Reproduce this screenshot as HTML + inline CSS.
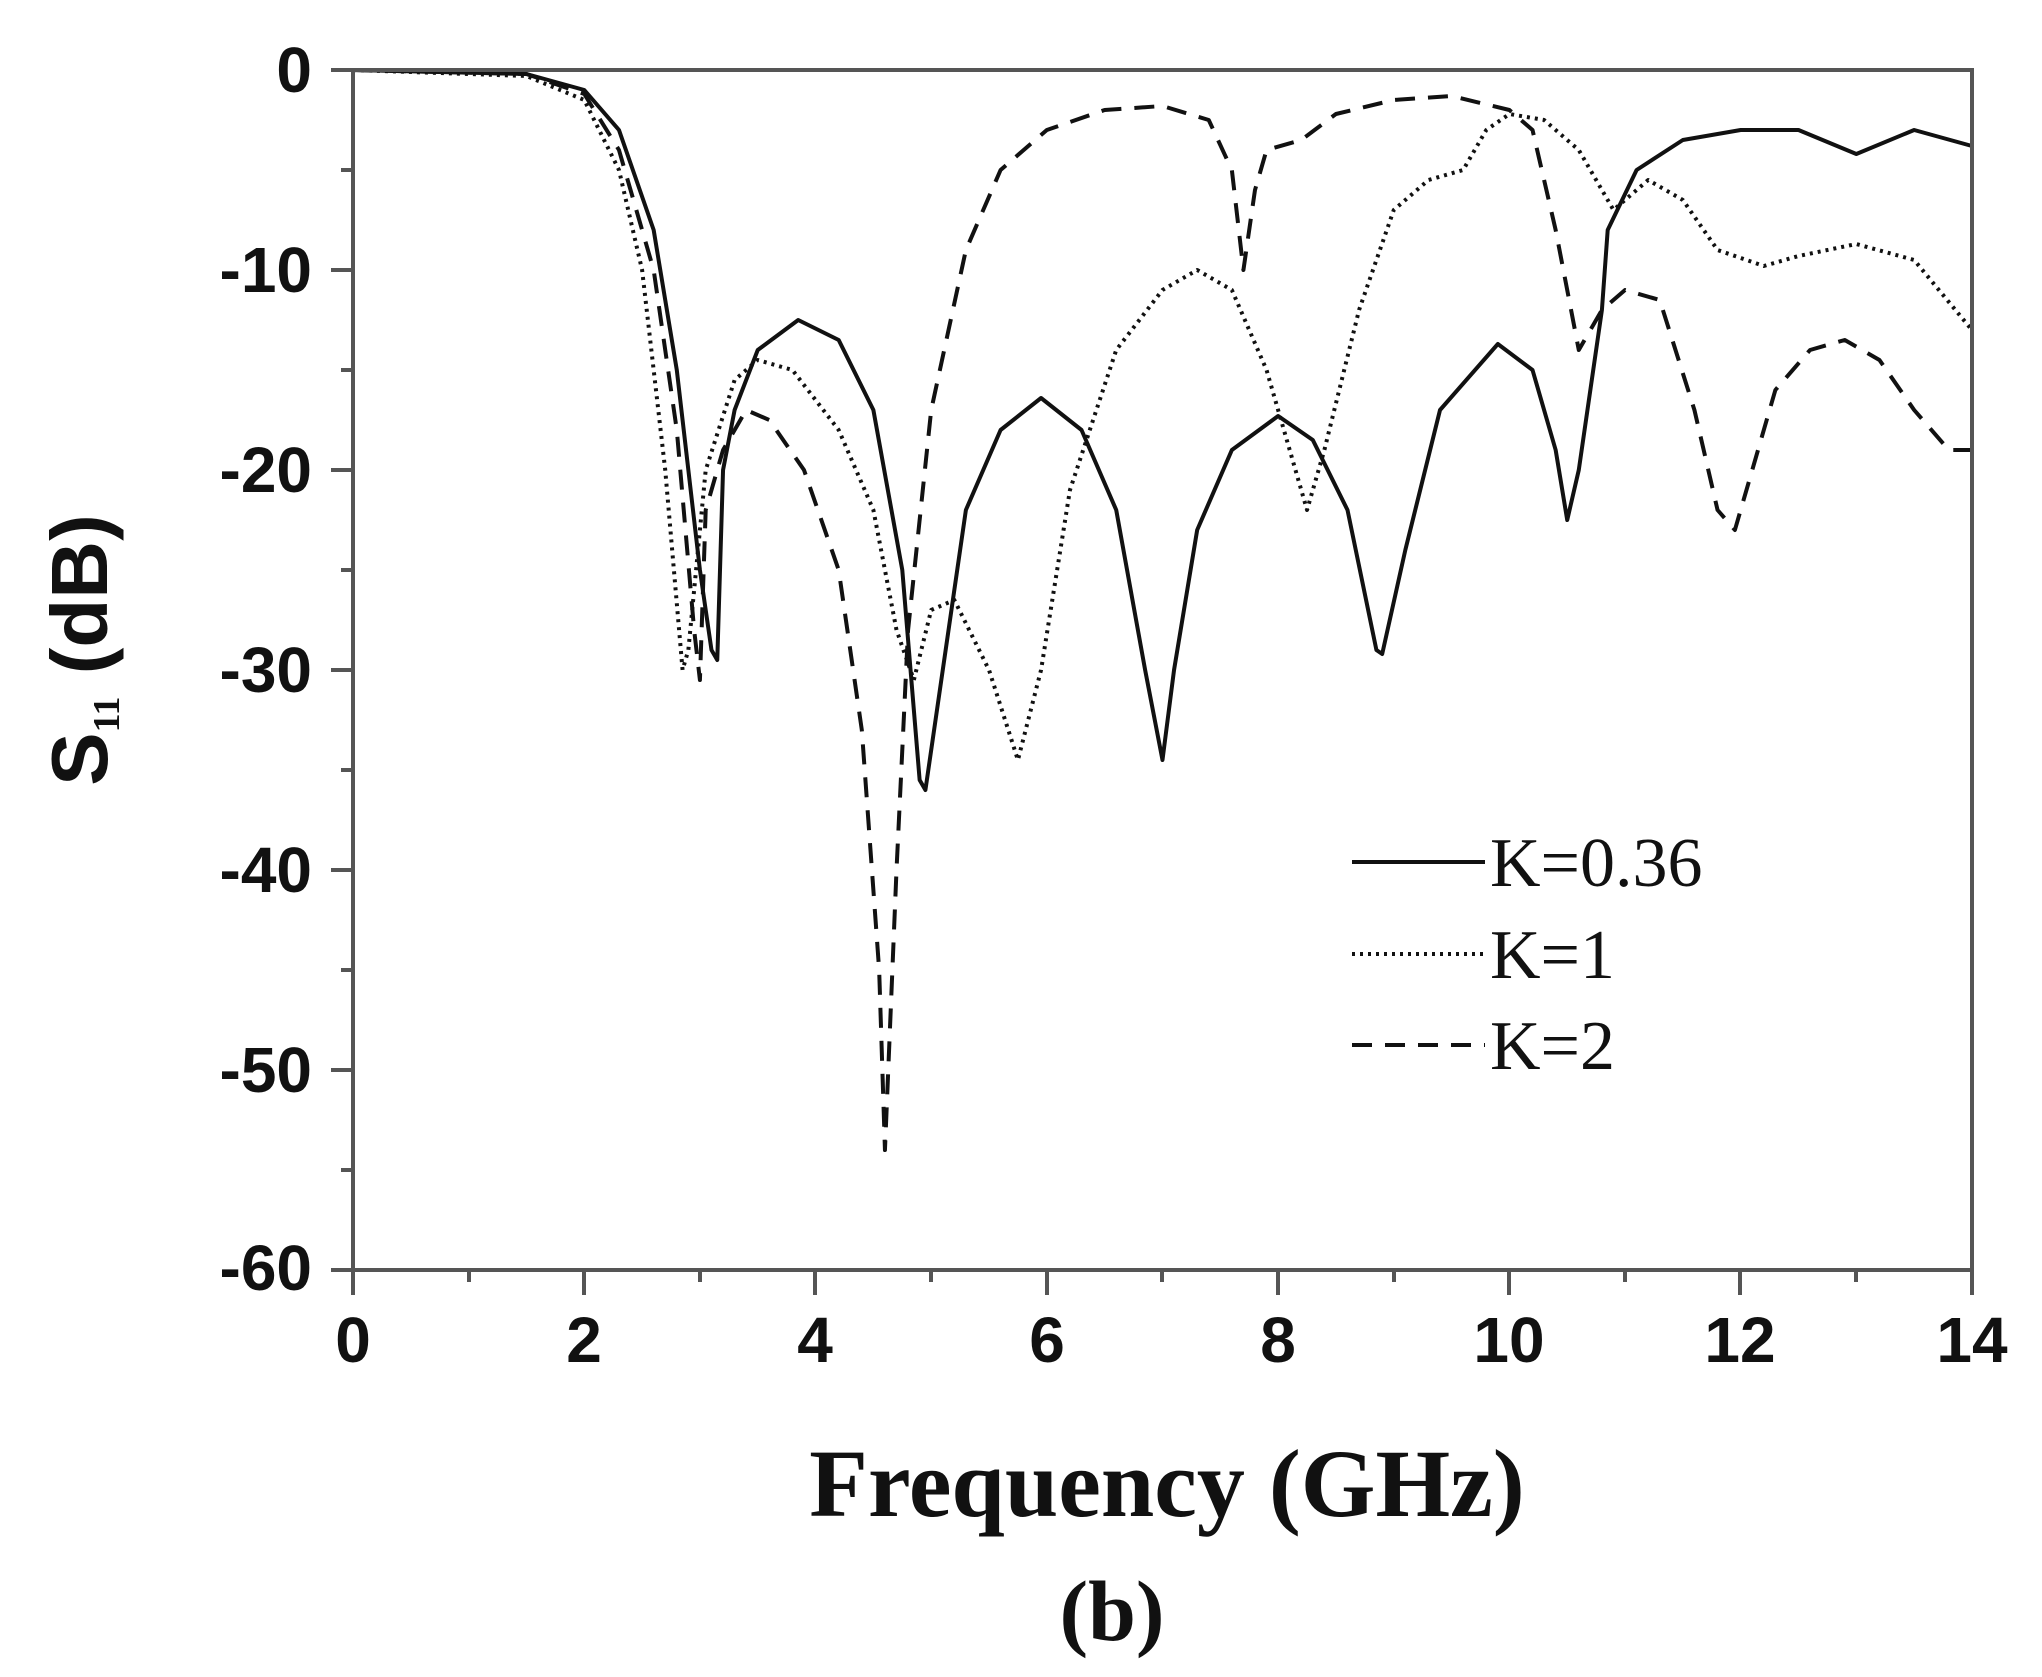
<!DOCTYPE html><html><head><style>body{margin:0;background:#fff}</style></head><body>
<svg width="2042" height="1672" xmlns="http://www.w3.org/2000/svg">
<rect width="2042" height="1672" fill="#fff"/>
<g transform="translate(353,70) scale(115.64,20)" fill="none" stroke="#111" stroke-linejoin="round">
<polyline vector-effect="non-scaling-stroke" stroke-width="4" points="0,0 1.5,0.2 2,1 2.3,3 2.6,8 2.8,15 3.0,25 3.1,29 3.15,29.5 3.2,20 3.3,17 3.5,14 3.85,12.5 4.2,13.5 4.5,17 4.75,25 4.9,35.5 4.95,36 5.1,30 5.3,22 5.6,18 5.95,16.4 6.3,18 6.6,22 6.85,30 7.0,34.5 7.1,30 7.3,23 7.6,19 8.0,17.3 8.3,18.5 8.6,22 8.85,29 8.9,29.2 9.1,24 9.4,17 9.9,13.7 10.2,15 10.4,19 10.5,22.5 10.6,20 10.8,12 10.85,8 11.1,5 11.5,3.5 12,3 12.5,3 13,4.2 13.5,3 14,3.8"/>
<polyline vector-effect="non-scaling-stroke" stroke-width="4" stroke-dasharray="3,5" points="0,0 1.5,0.3 2,1.5 2.3,5 2.5,10 2.7,20 2.85,30 2.9,29 3.05,20 3.3,15.5 3.5,14.5 3.8,15 4.2,18 4.5,22 4.7,28 4.85,30.5 5.0,27 5.2,26.5 5.5,30 5.75,34.5 5.95,30 6.2,21 6.6,14 7,11 7.3,10 7.6,11 7.9,15 8.1,19 8.25,22 8.4,19 8.7,12 9.0,7 9.3,5.5 9.6,5 9.8,3 10.0,2.2 10.3,2.5 10.6,4 10.9,7 11.2,5.5 11.5,6.5 11.8,9 12.2,9.8 12.5,9.3 13,8.7 13.5,9.5 14,13"/>
<polyline vector-effect="non-scaling-stroke" stroke-width="4" stroke-dasharray="20,13" points="0,0 1.5,0.2 2,1.2 2.3,4 2.6,10 2.8,18 2.95,28 3.0,30.5 3.05,22 3.2,19 3.4,17 3.6,17.5 3.9,20 4.2,25 4.4,33 4.55,45 4.6,54 4.7,40 4.8,28 5.0,17 5.3,9 5.6,5 6,3 6.5,2 7,1.8 7.4,2.5 7.6,5 7.7,10 7.8,6 7.9,4 8.2,3.5 8.5,2.2 9,1.5 9.5,1.3 10,2 10.2,3 10.4,8 10.6,14 10.8,12 11.0,11 11.3,11.5 11.6,17 11.8,22 11.95,23 12.1,20 12.3,16 12.6,14 12.9,13.5 13.2,14.5 13.5,17 13.8,19 14,19"/>
</g>
<g stroke="#555" stroke-width="4" fill="none">
<rect x="353" y="70" width="1619" height="1200"/>
<path d="M353,1270v25M584,1270v25M815,1270v25M1047,1270v25M1278,1270v25M1509,1270v25M1740,1270v25M1972,1270v25
M469,1270v12M700,1270v12M931,1270v12M1162,1270v12M1394,1270v12M1625,1270v12M1856,1270v12
M353,70h-22M353,270h-22M353,470h-22M353,670h-22M353,870h-22M353,1070h-22M353,1270h-22
M353,170h-12M353,370h-12M353,570h-12M353,770h-12M353,970h-12M353,1170h-12"/>
</g>
<g font-family="Liberation Sans,sans-serif" font-weight="bold" font-size="64" fill="#111">
<g text-anchor="end"><text x="312" y="92">0</text><text x="312" y="292">-10</text><text x="312" y="492">-20</text><text x="312" y="692">-30</text><text x="312" y="892">-40</text><text x="312" y="1092">-50</text><text x="312" y="1290">-60</text></g>
<g text-anchor="middle"><text x="353" y="1362">0</text><text x="584" y="1362">2</text><text x="815" y="1362">4</text><text x="1047" y="1362">6</text><text x="1278" y="1362">8</text><text x="1509" y="1362">10</text><text x="1740" y="1362">12</text><text x="1972" y="1362">14</text></g>
<text transform="translate(107,650) rotate(-90)" text-anchor="middle" font-size="80">S<tspan font-size="38" font-family="Liberation Serif,serif" dy="12">11</tspan><tspan dy="-12"> (dB)</tspan></text>
</g>
<g font-family="Liberation Serif,serif" fill="#111">
<text x="1167" y="1516" text-anchor="middle" font-size="96" font-weight="bold">Frequency (GHz)</text>
<text x="1112" y="1640" text-anchor="middle" font-size="86" font-weight="bold">(b)</text>
<text x="1490" y="886" font-size="70">K=0.36</text>
<text x="1490" y="978" font-size="70">K=1</text>
<text x="1490" y="1069" font-size="70">K=2</text>
</g>
<g stroke="#111" stroke-width="4">
<line x1="1352" y1="862" x2="1485" y2="862"/>
<line x1="1352" y1="954" x2="1485" y2="954" stroke-dasharray="3,5"/>
<line x1="1352" y1="1045" x2="1485" y2="1045" stroke-dasharray="20,13"/>
</g>
</svg></body></html>
